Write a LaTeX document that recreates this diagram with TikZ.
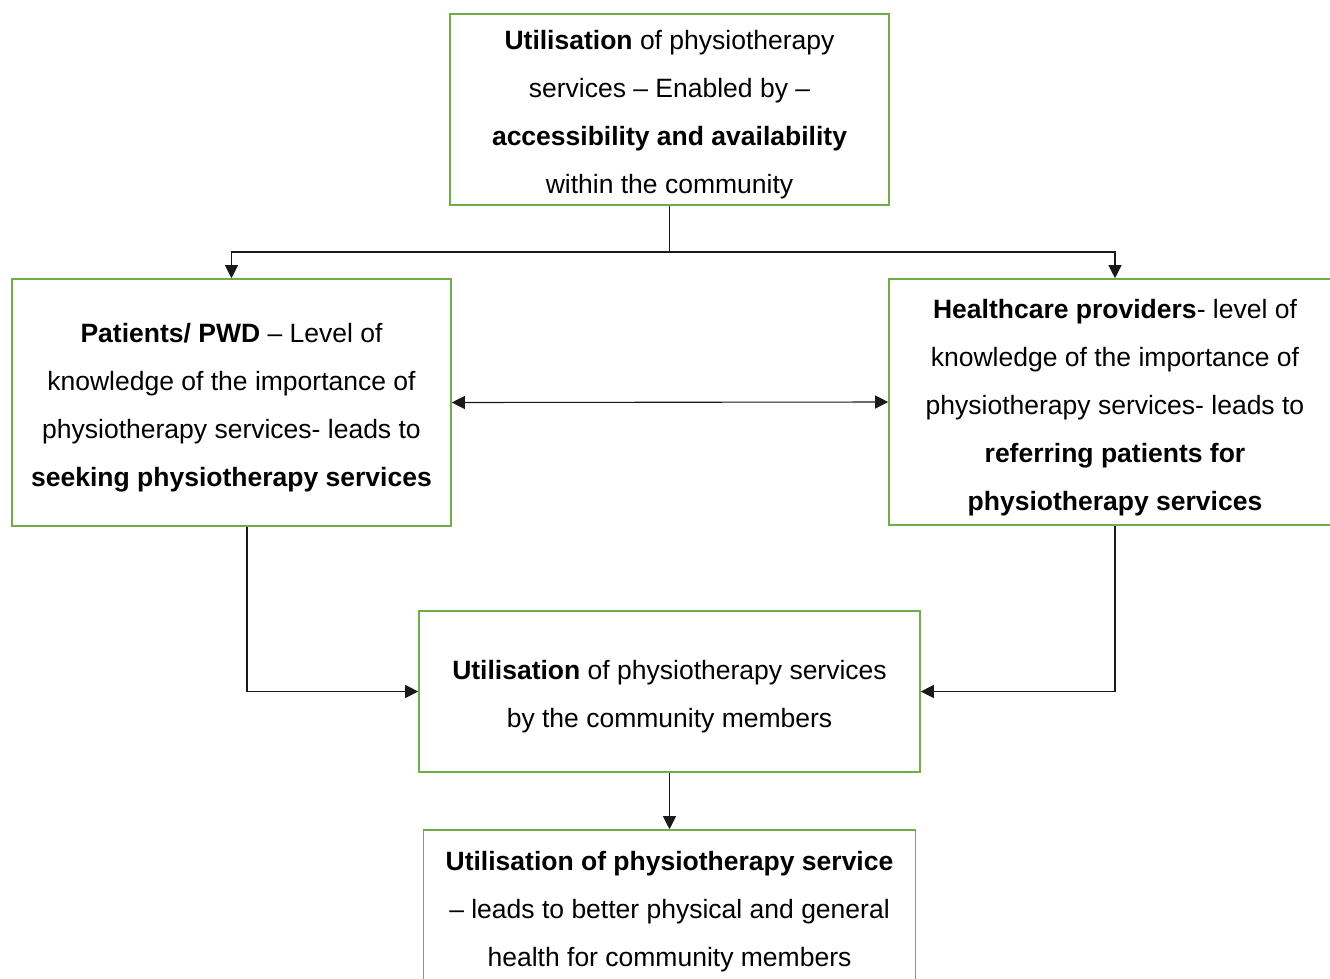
\documentclass[tikz,border=0pt]{standalone}
\usepackage{fontspec}
\setmainfont{Liberation Sans}
\usetikzlibrary{arrows.meta}
\definecolor{boxgreen}{HTML}{70AD47}
\definecolor{linegray}{HTML}{1A1A1A}
% raises the first line so the text block sits a little low in its box
\newcommand\leadstrut{\rule{0pt}{30pt}}
\begin{document}
\begin{tikzpicture}[x=1pt,y=-1pt,
  box/.style={draw=boxgreen, line width=1.6pt, align=center, inner sep=0pt,
    font=\fontsize{26.5}{48}\selectfont},
  tip/.tip={Triangle[length=13pt,width=13pt]},
  arr/.style={draw=linegray, line width=1.1pt, -tip},
  dblarr/.style={draw=linegray, line width=1.1pt, tip-tip},
  link/.style={draw=linegray, line width=1.1pt}]
\useasboundingbox (0,0) rectangle (1330,978);
\clip (0,0) rectangle (1330,978);

\node[box, minimum width=439pt, minimum height=191pt] (top) at (669.5,109.5)
  {\leadstrut\textbf{Utilisation} of physiotherapy\\
   services -- Enabled by --\\
   \textbf{accessibility and availability}\\
   within the community};

\node[box, minimum width=439pt, minimum height=247pt] (left) at (231.5,402.5)
  {\leadstrut\textbf{Patients/ PWD} -- Level of\\
   knowledge of the importance of\\
   physiotherapy services- leads to\\
   \textbf{seeking physiotherapy services}};

\node[box, minimum width=452pt, minimum height=246pt] (right) at (1115,402)
  {\leadstrut\textbf{Healthcare providers}- level of\\
   knowledge of the importance of\\
   physiotherapy services- leads to\\
   \textbf{referring patients for}\\
   \textbf{physiotherapy services}};

\node[box, minimum width=501pt, minimum height=161pt] (mid) at (669.5,691.5)
  {\leadstrut\textbf{Utilisation} of physiotherapy services\\
   by the community members};

\node[box, minimum width=492pt, minimum height=152pt] (bot) at (669.5,906)
  {\leadstrut\textbf{Utilisation of physiotherapy service}\\
   -- leads to better physical and general\\
   health for community members};

% split point below the top box
\coordinate (split) at (669.5,252);
\draw[link] (top.south) -- (split);
\draw[arr] (split) -| (left.north);
\draw[arr] (split) -| (right.north);

% two-way link between patients and providers
\draw[dblarr] (left.east) -- (right.west);

% both groups feed into utilisation
\draw[arr] ([xshift=15.5pt]left.south) |- (mid.west);
\draw[arr] (right.south) |- (mid.east);

% utilisation leads to better health
\draw[arr] (mid.south) -- (bot.north);
\end{tikzpicture}
\end{document}
